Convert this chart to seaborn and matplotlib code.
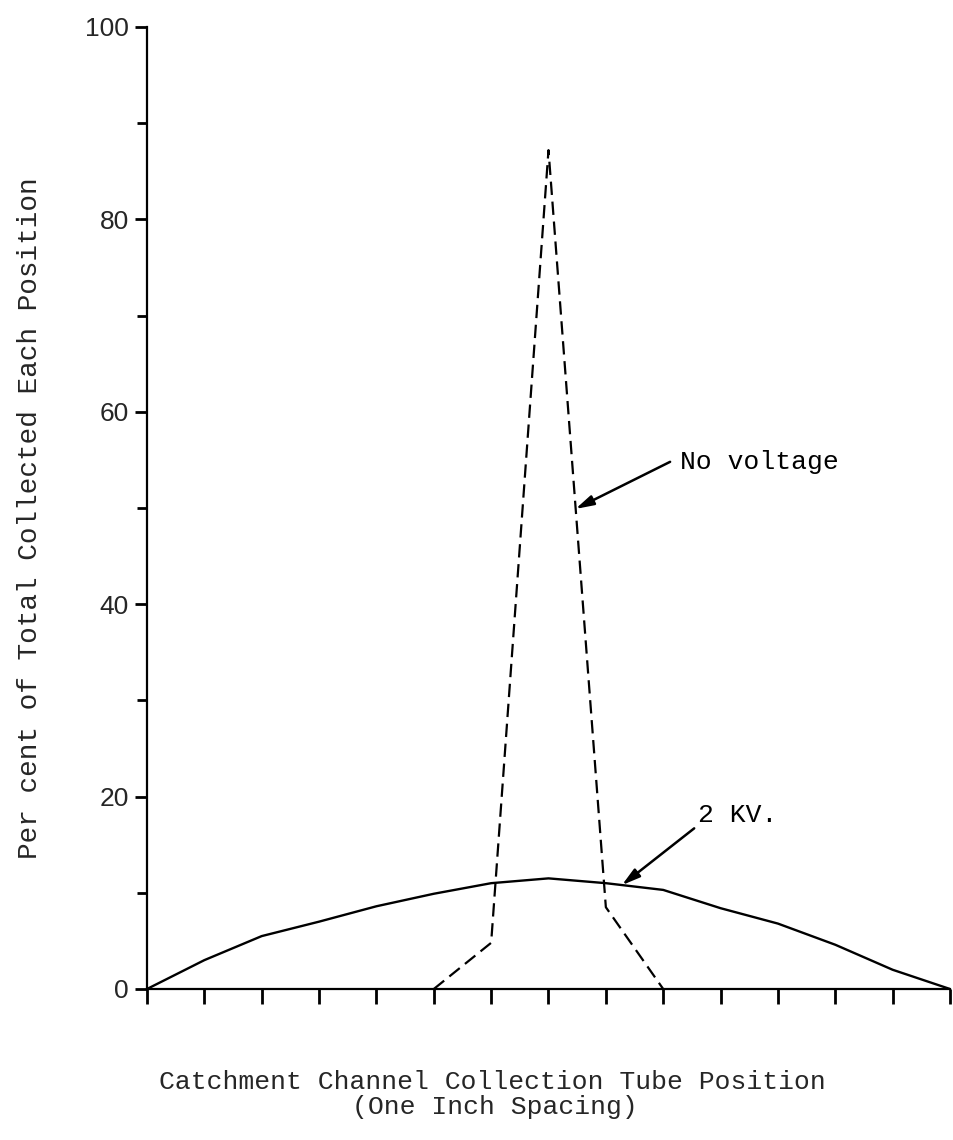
import numpy as np
import pandas as pd
import seaborn as sns
import matplotlib
matplotlib.use("Agg")
import matplotlib.pyplot as plt
from matplotlib.ticker import MultipleLocator

# ---- data ----
positions = list(range(15))
kv2_values = [0, 3.0, 5.5, 7.0, 8.6, 9.9, 11.0, 11.5, 11.0, 10.3, 8.4, 6.8, 4.6, 2.0, 0]
novolt_positions = [5, 6, 7, 8, 9]
novolt_values = [0, 4.8, 87.2, 8.5, 0]
y_ticks = [0, 20, 40, 60, 80, 100]
y_label = "Per cent of Total Collected Each Position"
x_label_1 = "Catchment Channel Collection Tube Position"
x_label_2 = "(One Inch Spacing)"
label_kv = "2 KV."
label_nv = "No voltage"

sns.set_theme(style="ticks")
plt.rcParams['font.family'] = ['Liberation Mono', 'DejaVu Sans']

fig = plt.figure(figsize=(9.54, 11.4), dpi=100)
ax = fig.add_axes([147/954, 1-989/1140, (950-147)/954, (989-27)/1140])

df_kv = pd.DataFrame({'pos': positions, 'val': kv2_values})
df_nv = pd.DataFrame({'pos': novolt_positions, 'val': novolt_values})

sns.lineplot(data=df_kv, x='pos', y='val', ax=ax, color='black', lw=1.7)
sns.lineplot(data=df_nv, x='pos', y='val', ax=ax, color='black', lw=1.6,
             linestyle=(0, (6, 3)))

ax.set_xlim(0, 14)
ax.set_ylim(0, 100)
ax.set_xticks(positions)
ax.set_xticklabels([])
ax.set_yticks(y_ticks)
ax.set_yticklabels([str(v) for v in y_ticks], family='Liberation Sans', fontsize=19)
ax.yaxis.set_minor_locator(MultipleLocator(10))
ax.tick_params(axis='y', which='major', length=9, width=2, pad=4, color='black')
ax.tick_params(axis='y', which='minor', length=7, width=2, color='black')
ax.tick_params(axis='x', which='major', length=11, width=2, color='black')
ax.set_xlabel('')
ax.set_ylabel('')
for s in ['top', 'right']:
    ax.spines[s].set_visible(False)
for s in ['left', 'bottom']:
    ax.spines[s].set_linewidth(1.6)
    ax.spines[s].set_color('black')
    ax.spines[s].set_clip_on(False)
ax.set_facecolor('white')

# annotations
arrow = dict(arrowstyle='-|>,head_length=0.9,head_width=0.25', color='black', lw=1.8,
             shrinkA=0, shrinkB=0)
ax.annotate('', xy=(7.47, 49.9), xytext=(9.12, 54.8), arrowprops=arrow)
ax.text(9.29, 54.8, label_nv, fontsize=19, va='center', ha='left', color='black')
ax.annotate('', xy=(8.28, 10.8), xytext=(9.54, 16.7), arrowprops=arrow)
ax.text(9.6, 18.1, label_kv, fontsize=19, va='center', ha='left', color='black')

fig.text(30/954, 1-518/1140, y_label, rotation=90, fontsize=20, ha='center', va='center')
fig.text(492/954, 1-1082/1140, x_label_1, fontsize=19, ha='center', va='center')
fig.text(495/954, 1-1107/1140, x_label_2, fontsize=19, ha='center', va='center')

fig.savefig('out.png', dpi=100, facecolor='white')
